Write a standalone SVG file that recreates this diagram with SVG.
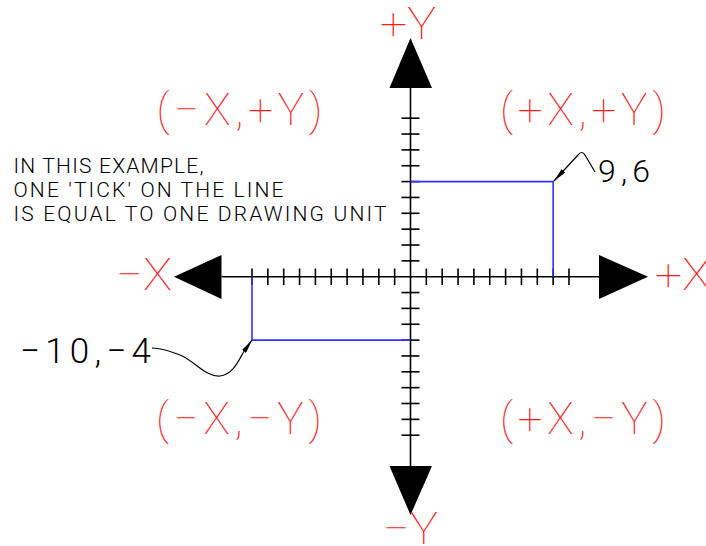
<svg xmlns="http://www.w3.org/2000/svg" width="706" height="546" viewBox="0 0 706 546">
<style>
.red{font-family:Roboto,"Liberation Sans",sans-serif;font-weight:100;fill:#ff1a1a;font-size:44px}
.blk{font-family:Roboto,"Liberation Sans",sans-serif;font-weight:300;fill:#000}
.ax{stroke:#000;stroke-width:1.6;fill:none}
.tk{stroke:#000;stroke-width:1.6}
.arr{fill:#000}
.blue{stroke:#3333ff;stroke-width:1.6;fill:none}
.lead{stroke:#000;stroke-width:1.2;fill:none;marker-start:url(#ah)}
</style>
<defs>
<marker id="ah" viewBox="0 0 14 5" refX="14" refY="2.5" markerWidth="14" markerHeight="5" markerUnits="userSpaceOnUse" orient="auto-start-reverse">
<path d="M0,0 L14,2.5 L0,5 z" fill="#000"/>
</marker>
</defs>
<rect width="706" height="546" fill="#fff"/>
<g id="axes">
<line class="ax" x1="410.5" y1="88" x2="410.5" y2="466"/>
<line class="ax" x1="221.5" y1="276.7" x2="599" y2="276.7"/>
<polygon class="arr" points="410.5,38 389.5,88 432,88"/>
<polygon class="arr" points="389.5,466 432,466 410.5,515"/>
<polygon class="arr" points="174,276.7 221.5,255 221.5,299"/>
<polygon class="arr" points="599,255 599,299 648,276.7"/>
<g id="ticks-x">
<line class="tk" x1="252" y1="268.5" x2="252" y2="285"/>
<line class="tk" x1="267.85" y1="268.5" x2="267.85" y2="285"/>
<line class="tk" x1="283.7" y1="268.5" x2="283.7" y2="285"/>
<line class="tk" x1="299.55" y1="268.5" x2="299.55" y2="285"/>
<line class="tk" x1="315.4" y1="268.5" x2="315.4" y2="285"/>
<line class="tk" x1="331.25" y1="268.5" x2="331.25" y2="285"/>
<line class="tk" x1="347.1" y1="268.5" x2="347.1" y2="285"/>
<line class="tk" x1="362.95" y1="268.5" x2="362.95" y2="285"/>
<line class="tk" x1="378.8" y1="268.5" x2="378.8" y2="285"/>
<line class="tk" x1="394.65" y1="268.5" x2="394.65" y2="285"/>
<line class="tk" x1="426.35" y1="268.5" x2="426.35" y2="285"/>
<line class="tk" x1="442.2" y1="268.5" x2="442.2" y2="285"/>
<line class="tk" x1="458.05" y1="268.5" x2="458.05" y2="285"/>
<line class="tk" x1="473.9" y1="268.5" x2="473.9" y2="285"/>
<line class="tk" x1="489.75" y1="268.5" x2="489.75" y2="285"/>
<line class="tk" x1="505.6" y1="268.5" x2="505.6" y2="285"/>
<line class="tk" x1="521.45" y1="268.5" x2="521.45" y2="285"/>
<line class="tk" x1="537.3" y1="268.5" x2="537.3" y2="285"/>
<line class="tk" x1="553.15" y1="268.5" x2="553.15" y2="285"/>
<line class="tk" x1="569" y1="268.5" x2="569" y2="285"/>
</g>
<g id="ticks-y">
<line class="tk" x1="401.5" y1="118.2" x2="419.5" y2="118.2"/>
<line class="tk" x1="401.5" y1="134.05" x2="419.5" y2="134.05"/>
<line class="tk" x1="401.5" y1="149.9" x2="419.5" y2="149.9"/>
<line class="tk" x1="401.5" y1="165.75" x2="419.5" y2="165.75"/>
<line class="tk" x1="401.5" y1="181.6" x2="419.5" y2="181.6"/>
<line class="tk" x1="401.5" y1="197.45" x2="419.5" y2="197.45"/>
<line class="tk" x1="401.5" y1="213.3" x2="419.5" y2="213.3"/>
<line class="tk" x1="401.5" y1="229.15" x2="419.5" y2="229.15"/>
<line class="tk" x1="401.5" y1="245" x2="419.5" y2="245"/>
<line class="tk" x1="401.5" y1="260.85" x2="419.5" y2="260.85"/>
<line class="tk" x1="401.5" y1="292.55" x2="419.5" y2="292.55"/>
<line class="tk" x1="401.5" y1="308.4" x2="419.5" y2="308.4"/>
<line class="tk" x1="401.5" y1="324.25" x2="419.5" y2="324.25"/>
<line class="tk" x1="401.5" y1="340.1" x2="419.5" y2="340.1"/>
<line class="tk" x1="401.5" y1="355.95" x2="419.5" y2="355.95"/>
<line class="tk" x1="401.5" y1="371.8" x2="419.5" y2="371.8"/>
<line class="tk" x1="401.5" y1="387.65" x2="419.5" y2="387.65"/>
<line class="tk" x1="401.5" y1="403.5" x2="419.5" y2="403.5"/>
<line class="tk" x1="401.5" y1="419.35" x2="419.5" y2="419.35"/>
<line class="tk" x1="401.5" y1="435.2" x2="419.5" y2="435.2"/>
</g>
</g>
<g id="axis-labels">
<text class="red" font-size="42" x="380" y="39" textLength="56" lengthAdjust="spacingAndGlyphs">+Y</text>
<text class="red" font-size="42" x="383" y="544" textLength="55" lengthAdjust="spacingAndGlyphs">−Y</text>
<text class="red" x="116" y="289.5" textLength="56" lengthAdjust="spacingAndGlyphs">−X</text>
<text class="red" x="655" y="289.5" textLength="56" lengthAdjust="spacingAndGlyphs">+X</text>
</g>
<g id="quadrant-labels">
<text class="red" x="156.5" y="124.5" textLength="166" lengthAdjust="spacing">(−X,+Y)</text>
<text class="red" x="500" y="124.5" textLength="166" lengthAdjust="spacing">(+X,+Y)</text>
<text class="red" x="156" y="434" textLength="166" lengthAdjust="spacing">(−X,−Y)</text>
<text class="red" x="500" y="434" textLength="166" lengthAdjust="spacing">(+X,−Y)</text>
</g>
<g id="note">
<text class="blk" font-size="21" x="13.5" y="173.3" textLength="190" lengthAdjust="spacing">IN THIS EXAMPLE,</text>
<text class="blk" font-size="21" x="13.5" y="197.3" textLength="270" lengthAdjust="spacing">ONE 'TICK' ON THE LINE</text>
<text class="blk" font-size="21" x="13.5" y="221" textLength="373" lengthAdjust="spacing">IS EQUAL TO ONE DRAWING UNIT</text>
</g>
<g id="point-9-6">
<polyline class="blue" points="410.5,181.6 553.15,181.6 553.15,276.7"/>
<text class="blk" font-size="32" x="598" y="181.7" textLength="52" lengthAdjust="spacing">9,6</text>
</g>
<g id="point-m10-m4">
<polyline class="blue" points="252,276.7 252,340.1 410.5,340.1"/>
<text class="blk" font-size="35" x="20" y="363.3" textLength="131" lengthAdjust="spacing">−10,−4</text>
</g>
<g id="connectors">
<path class="lead" d="M554,181 L578,155 Q582,150 585,155 L595,172"/>
<path class="lead" d="M252,340 L243,353 C238,362 232,375 220,376 C205,377 195,361 180,355 C170,351 160,348 152,348"/>
</g>
</svg>
